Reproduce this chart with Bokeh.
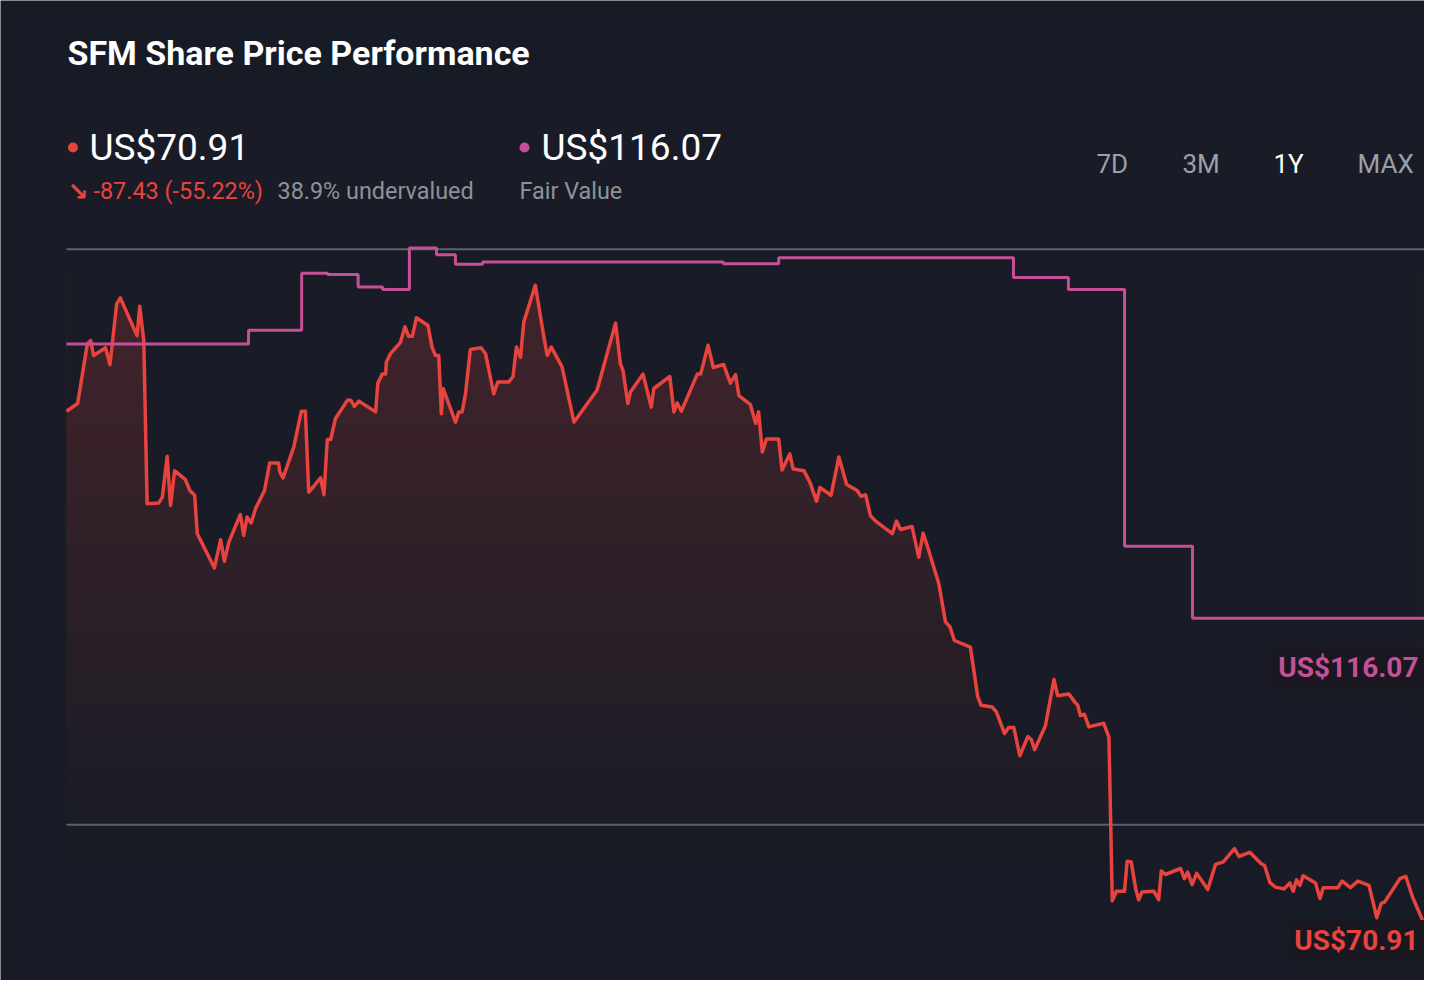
import numpy as np
from bokeh.plotting import figure
from bokeh.models import Range1d, Label, BoxAnnotation
from bokeh.embed import file_html
from bokeh.resources import INLINE

# ---------------- data ----------------
price_day = [0, 3.0, 5.6, 6.5, 7.3, 10.5, 11.7, 13.5, 14.5, 19.0,
             19.7, 20.8, 21.7, 24.8, 25.8, 27.1, 28.0, 29.1, 32.0, 33.2,
             34.5, 35.2, 39.8, 41.5, 42.5, 43.7, 46.8, 47.7, 48.6, 49.7,
             50.9, 53.3, 54.7, 57.1, 57.4, 58.3, 61.2, 63.2, 64.3, 65.2,
             68.4, 69.3, 70.2, 71.1, 72.4, 75.7, 76.6, 77.5, 78.7, 83.2,
             83.8, 85.0, 85.9, 86.1, 87.2, 89.9, 91.1, 92.1, 93.1, 94.2,
             97.3, 98.4, 99.3, 100.2, 100.9, 101.4, 104.7, 105.6, 106.5, 107.4,
             108.7, 111.6, 112.8, 115.0, 116.1, 119.1, 120.2, 121.1, 122.2, 123.1,
             126.2, 128.5, 129.4, 130.5, 133.4, 136.6, 142.8, 147.8, 149.1, 149.8,
             151.1, 151.8, 155.2, 157.4, 158.1, 162.4, 163.5, 164.4, 165.5, 169.8,
             170.7, 172.7, 174.1, 176.9, 178.7, 180.1, 181.0, 184.1, 185.5, 186.3,
             187.3, 188.4, 191.7, 192.6, 194.7, 195.6, 198.5, 200.1, 201.9, 202.8,
             205.8, 207.9, 210.0, 212.8, 213.9, 215.1, 216.4, 217.8, 222.3, 223.4,
             224.5, 227.6, 229.4, 230.6, 231.7, 234.8, 236.6, 237.8, 239.0, 243.3,
             245.3, 246.2, 249.2, 250.3, 252.5, 253.6, 255.0, 256.6, 258.8, 259.7,
             260.6, 263.5, 265.8, 266.8, 269.8, 271.6, 272.2, 272.9, 274.0, 275.2,
             279.2, 280.6, 281.5, 282.6, 284.8, 285.5, 286.6, 287.8, 288.6, 289.5,
             292.7, 294.0, 294.7, 295.8, 299.9, 300.9, 301.8, 303.0, 304.2, 307.2,
             309.3, 311.4, 314.4, 315.6, 318.5, 321.6, 322.5, 323.9, 325.4, 327.7,
             329.3, 330.2, 331.1, 332.0, 332.9, 336.2, 337.4, 338.3, 342.2, 343.4,
             345.6, 347.6, 350.6, 352.7, 353.9, 354.8, 358.9, 360.5, 362.3, 365.0]

price = [155.7, 157.0, 166.9, 167.5, 165.0, 166.3, 163.5, 173.6, 174.6, 168.3,
         173.2, 167.5, 140.3, 140.4, 141.4, 148.2, 140.0, 145.8, 144.3, 142.5,
         141.7, 135.3, 129.6, 134.3, 130.7, 133.9, 138.5, 135.0, 138.1, 137.1,
         139.5, 142.5, 147.1, 147.1, 145.6, 144.6, 149.8, 155.7, 155.7, 142.2,
         144.6, 141.8, 151.0, 151.0, 154.5, 157.6, 157.5, 156.5, 157.4, 155.6,
         160.4, 161.9, 161.9, 163.9, 165.3, 167.2, 169.8, 168.2, 168.2, 171.3,
         170.0, 166.4, 165.0, 165.0, 155.3, 159.5, 153.9, 155.6, 155.6, 158.6,
         166.0, 166.3, 165.3, 158.6, 160.6, 160.6, 161.5, 166.4, 164.7, 170.6,
         176.7, 168.1, 165.0, 166.4, 163.1, 153.9, 159.2, 170.4, 163.6, 162.5,
         157.0, 158.9, 161.9, 156.4, 159.5, 161.5, 155.6, 157.1, 155.7, 161.9,
         161.9, 166.7, 163.0, 163.5, 160.4, 161.8, 158.3, 156.8, 153.7, 155.6,
         148.9, 151.1, 151.1, 145.9, 148.6, 146.1, 145.8, 143.9, 140.7, 143.0,
         141.7, 148.1, 143.5, 142.5, 141.5, 141.8, 138.3, 137.4, 135.3, 137.4,
         136.0, 136.5, 131.4, 135.4, 133.3, 127.0, 120.6, 119.8, 117.5, 116.4,
         108.1, 106.7, 106.4, 105.6, 102.0, 103.0, 103.0, 98.3, 101.5, 101.0,
         99.3, 103.3, 111.0, 108.3, 108.6, 107.1, 106.7, 105.0, 105.2, 103.1,
         103.7, 101.4, 74.1, 75.7, 75.7, 80.7, 80.6, 76.1, 74.3, 75.6,
         75.7, 74.3, 79.1, 78.5, 79.5, 77.8, 78.9, 76.8, 78.7, 76.0,
         80.2, 80.6, 82.8, 81.5, 82.2, 80.3, 80.0, 77.2, 76.4, 76.1,
         77.1, 75.7, 77.6, 76.7, 78.3, 77.1, 74.5, 76.3, 76.3, 77.4,
         76.3, 77.4, 76.7, 71.3, 73.7, 73.9, 77.8, 78.2, 74.8, 70.91]

fair_day = [0, 49.0, 63.3, 70.3, 78.5, 85.1, 92.3, 99.6, 104.7, 112.0,
            176.8, 191.7, 254.9, 269.7, 284.8, 303.1, 367.2]
fair_value = [166.9, 169.2, 178.7, 178.5, 176.4, 176.0, 182.9, 181.8, 180.2, 180.6,
              180.3, 181.3, 178.0, 176.0, 133.2, 121.2, 116.07]

grid_levels = [86.8, 182.7]
periods = ["7D", "3M", "1Y", "MAX"]
active_period = "1Y"
ticker = "SFM"
last_price = 70.91
fair_value_now = 116.07
change_abs = -87.43
change_pct = -55.22
undervalued_pct = 38.9

# ---------------- styling ----------------
W, H = 1424, 980
BG = (22, 27, 37)
BG_HEX = "#161b25"
PANEL_HEX = "#191c26"
RED_RGB = (232, 67, 63)
RED = "#e8433f"
PINK = "#c65097"
GRID = "#5b616d"
GREY = "#8d929b"
FONT = "Roboto"


def blend(fg, bg, a):
    return "#%02x%02x%02x" % tuple(int(round(bg[i] + (fg[i] - bg[i]) * a)) for i in range(3))


# canvas-pixel -> data mapping (layout helpers)
def px_x(X):
    return (X - 66) / 3.715


def px_y(Y):
    return (1345 - Y) / 6.0


p = figure(width=W, height=H,
           x_range=Range1d(px_x(0), px_x(W)),
           y_range=Range1d(px_y(H), px_y(0)),
           output_backend="svg", toolbar_location=None, tools="",
           x_axis_location=None, y_axis_location=None,
           min_border=0, min_border_left=0, min_border_right=0,
           min_border_top=0, min_border_bottom=0,
           background_fill_color=BG_HEX, border_fill_color=BG_HEX,
           outline_line_color=None)
p.grid.visible = False

# subtle chart panel
p.add_layout(BoxAnnotation(left=px_x(58), right=px_x(W), top=px_y(118), bottom=px_y(890),
                           fill_color=PANEL_HEX, fill_alpha=1.0, line_color=None, level="underlay"))

# gradient area under the price line: horizontal gradient stripes, then mask above the line
pr = np.array(price)
base = px_y(890)
top = max(price) + 1.0
N = 60
levels = np.linspace(base, top, N + 1)
step = levels[1] - levels[0]
x0, x1 = price_day[0], price_day[-1]
stripe_colors = [blend(RED_RGB, BG, 0.215 * i / (N - 1)) for i in range(N)]
p.quad(left=[x0] * N, right=[x1] * N, bottom=list(levels[:-1]),
       top=list(levels[1:] + 0.6 * step), fill_color=stripe_colors, line_color=None)
p.varea(x=price_day, y1=np.maximum(pr, base), y2=top + step,
        fill_color=PANEL_HEX, fill_alpha=1.0)

# reference grid lines
p.segment(x0=[price_day[0]] * len(grid_levels), y0=grid_levels,
          x1=[px_x(W)] * len(grid_levels), y1=grid_levels,
          line_color=GRID, line_width=2)

# price and fair value lines
p.line(price_day, price, line_color=RED, line_width=3.5, line_join="round")
p.step(fair_day, fair_value, mode="after", line_color=PINK, line_width=3)


# ---------------- text helper ----------------
def label(X, Ybase, text, size, color, style="normal", align="left", font=FONT):
    # Ybase is the wanted baseline in canvas pixels
    p.add_layout(Label(x=px_x(X), y=px_y(Ybase - 0.39 * size), text=text,
                       text_font=font, text_font_size=f"{size}px", text_font_style=style,
                       text_color=color, text_baseline="alphabetic", text_align=align))


# ---------------- header ----------------
label(67, 66, f"{ticker} Share Price Performance", 34, "#ffffff", style="bold")

p.scatter(x=[px_x(72.5)], y=[px_y(147)], size=10, color=RED, line_color=None)
p.scatter(x=[px_x(524)], y=[px_y(147)], size=10, color=PINK, line_color=None)

label(89, 161, f"US${last_price:.2f}", 37, "#ffffff")
label(541, 161, f"US${fair_value_now:.2f}", 37, "#ffffff")

label(67, 201, "\u2198", 25, RED, style="bold", font="DejaVu Sans")
label(93, 200, f"{change_abs:.2f} ({change_pct:.2f}%)", 23.4, RED)
label(277, 200, f"{undervalued_pct}% undervalued", 23.4, GREY)
label(519, 200, "Fair Value", 23.4, GREY)

period_x = [1096, 1182, 1273, 1357]
for lbl, X in zip(periods, period_x):
    label(X, 174, lbl, 26, "#ffffff" if lbl == active_period else "#9ba0a8")

# ---------------- end-of-line value tags ----------------
TAG_BG = "#19171f"
p.add_layout(BoxAnnotation(left=px_x(1272), right=px_x(W), top=px_y(648), bottom=px_y(688),
                           fill_color=TAG_BG, fill_alpha=1.0, line_color=None))
label(1418, 678, f"US${fair_value_now:.2f}", 28, PINK, style="bold", align="right")
p.add_layout(BoxAnnotation(left=px_x(1290), right=px_x(W), top=px_y(920), bottom=px_y(960),
                           fill_color=TAG_BG, fill_alpha=1.0, line_color=None))
label(1418, 951, f"US${last_price:.2f}", 28, RED, style="bold", align="right")

open("out.html", "w").write(file_html(p, INLINE))
